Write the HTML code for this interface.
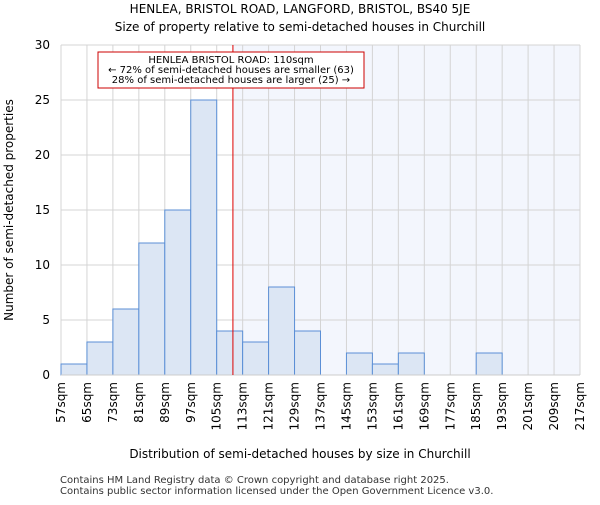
<!DOCTYPE html>
<html><head><style>body{margin:0;background:#fff}svg{font-family:"DejaVu Sans","Liberation Sans",sans-serif}</style></head>
<body>
<svg id="c" width="600" height="500" xmlns="http://www.w3.org/2000/svg">
<text x="300" y="13" text-anchor="middle" font-size="12">HENLEA, BRISTOL ROAD, LANGFORD, BRISTOL, BS40 5JE</text>
<text x="300" y="31" text-anchor="middle" font-size="12">Size of property relative to semi-detached houses in Churchill</text>
<g id="plot"></g>
<text x="300" y="458" text-anchor="middle" font-size="12">Distribution of semi-detached houses by size in Churchill</text>
<text transform="translate(13,210) rotate(-90)" text-anchor="middle" font-size="12">Number of semi-detached properties</text>
<text x="60" y="483" font-size="10" fill="#333">Contains HM Land Registry data © Crown copyright and database right 2025.</text>
<text x="60" y="494" font-size="10" fill="#333">Contains public sector information licensed under the Open Government Licence v3.0.</text>
</svg>
<script>
const binStarts=[57,65,73,81,89,97,105,113,121,129,137,145,153,161,169,177,185,193,201,209];
const counts=[1,3,6,12,15,25,4,3,8,4,0,2,1,2,0,0,2,0,0,0];
const yTicks=[0,5,10,15,20,25,30];
const xTickLabels=[57,65,73,81,89,97,105,113,121,129,137,145,153,161,169,177,185,193,201,209,217];
const subjectSize=110;
const NS="http://www.w3.org/2000/svg";
const X0=61,X1=580,Y0=375,Y1=45,xmin=57,xmax=217,ymax=30;
const xs=v=>X0+(v-xmin)/(xmax-xmin)*(X1-X0);
const ys=v=>Y0-v/ymax*(Y0-Y1);
const g=document.getElementById('plot');
function mk(t,a){const e=document.createElementNS(NS,t);for(const k in a)e.setAttribute(k,a[k]);g.appendChild(e);return e;}
let e=mk('rect',{x:xs(subjectSize),y:Y1,width:X1-xs(subjectSize),height:Y0-Y1,fill:'#f3f6fd'});


xTickLabels.forEach(v=>{const l=mk('line',{x1:xs(v),x2:xs(v),y1:Y1,y2:Y0,stroke:'#d4d4d4'});


const t=mk('text',{transform:`translate(${xs(v)+4},382) rotate(-90)`,'text-anchor':'end','font-size':12});t.textContent=v+'sqm';

});
yTicks.forEach(v=>{const l=mk('line',{x1:X0,x2:X1,y1:ys(v),y2:ys(v),stroke:'#d4d4d4'});


const t=mk('text',{x:50,y:ys(v)+4,'text-anchor':'end','font-size':12});t.textContent=v;

});
binStarts.forEach((s,i)=>{if(!counts[i])return;const r=mk('rect',{x:xs(s),y:ys(counts[i]),width:xs(s+8)-xs(s),height:Y0-ys(counts[i]),fill:'#dce6f4',stroke:'#5b8fd6','stroke-width':1});

});
e=mk('line',{x1:X0,x2:X1,y1:Y0,y2:Y0,stroke:'#ccc'});


e=mk('line',{x1:xs(subjectSize),x2:xs(subjectSize),y1:Y1,y2:Y0,stroke:'#d00','stroke-width':1});


e=mk('rect',{x:98,y:52,width:266,height:36,fill:'#fff',stroke:'#c00'});


[['HENLEA BRISTOL ROAD: 110sqm',63],['← 72% of semi-detached houses are smaller (63)',73],['28% of semi-detached houses are larger (25) →',83]].forEach(([s,y])=>{const t=mk('text',{x:231,y:y,'text-anchor':'middle','font-size':10});t.textContent=s;

});
</script>
</body></html>
